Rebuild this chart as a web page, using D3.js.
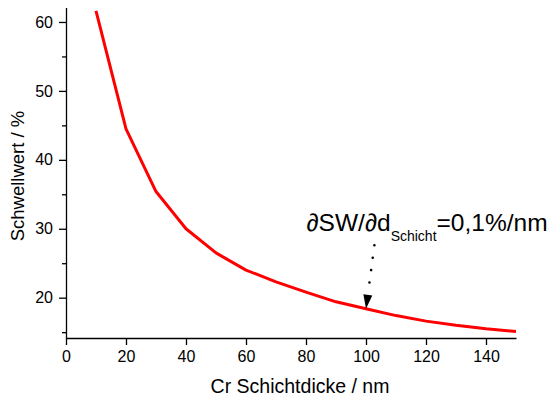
<!DOCTYPE html>
<html>
<head>
<meta charset="utf-8">
<script src="https://cdn.jsdelivr.net/npm/d3@7"></script>
<style>
  body { margin: 0; background: #fff; }
  svg { display: block; font-family: 'Liberation Sans', Arial, sans-serif; }
  .axis path, .axis line { stroke: #000; stroke-width: 1.3; }
  .axis text { font-size: 16px; fill: #000; font-family: 'Liberation Sans', Arial, sans-serif; }
</style>
</head>
<body>
<svg width="551" height="401"></svg>
<script>
// Schichtdicke in nm
let dicke = [10, 20, 30, 40, 50, 60, 70, 80, 90, 100, 110, 120, 130, 140, 150]
// Schwellwert in %
let schwellwert = [61.6, 44.5, 35.4, 30.0, 26.5, 24.0, 22.3, 20.8, 19.4, 18.4, 17.4, 16.6, 16.0, 15.5, 15.1]
let xTicks = [0, 20, 40, 60, 80, 100, 120, 140]
let yTicks = [20, 30, 40, 50, 60]
let yMinor = [15, 25, 35, 45, 55]
// annotation: arrow from label down to the curve at 100 nm
let arrowFrom = [102.8, 27.6]
let arrowTo = [100, 18.4]

let svg = d3.select('svg')
let mLeft = 66, mRight = 516, mTop = 7.5, mBottom = 338

let x = d3.scaleLinear().domain([0, 150]).range([mLeft, mRight])
let y = d3.scaleLinear().domain([14.15, 62.1]).range([mBottom, mTop])

svg.append('g')
  .attr('class', 'axis')
  .attr('transform', 'translate(0,' + mBottom + ')')
  .call(d3.axisBottom(x).tickValues(xTicks).tickSize(7).tickSizeOuter(0).tickPadding(6))

svg.append('g')
  .attr('class', 'axis')
  .attr('transform', 'translate(' + mLeft + ',0)')
  .call(d3.axisLeft(y).tickValues(yTicks).tickSize(7).tickSizeOuter(0).tickPadding(6))

svg.append('g')
  .attr('class', 'axis')
  .attr('transform', 'translate(' + mLeft + ',0)')
  .call(d3.axisLeft(y).tickValues(yMinor).tickSize(4).tickSizeOuter(0).tickFormat(''))
  .select('.domain').remove()

let line = d3.line()
  .x((d, i) => x(dicke[i]))
  .y(d => y(d))

svg.append('path')
  .datum(schwellwert)
  .attr('d', line)
  .attr('fill', 'none')
  .attr('stroke', '#ff0000')
  .attr('stroke-width', 3)
  .attr('stroke-linejoin', 'round')

// axis labels
svg.append('text')
  .attr('x', 300)
  .attr('y', 393)
  .attr('text-anchor', 'middle')
  .style('font-size', '19.5px')
  .text('Cr Schichtdicke / nm')

svg.append('text')
  .attr('transform', 'translate(23.5,176) rotate(-90)')
  .attr('text-anchor', 'middle')
  .style('font-size', '18.5px')
  .text('Schwellwert / %')

// annotation
let ax0 = x(arrowFrom[0]), ay0 = y(arrowFrom[1])
let ax1 = x(arrowTo[0]), ay1 = y(arrowTo[1])
let headLen = 14
let ang = Math.atan2(ay1 - ay0, ax1 - ax0)
let bx = ax1 - headLen * Math.cos(ang), by = ay1 - headLen * Math.sin(ang)

svg.append('line')
  .attr('x1', ax0).attr('y1', ay0)
  .attr('x2', bx).attr('y2', by)
  .attr('stroke', '#000')
  .attr('stroke-width', 2.6)
  .attr('stroke-linecap', 'round')
  .attr('stroke-dasharray', '0 12.5')

let px = Math.cos(ang + Math.PI / 2) * 4.5, py = Math.sin(ang + Math.PI / 2) * 4.5
svg.append('path')
  .attr('d', 'M' + ax1 + ',' + ay1 + 'L' + (bx + px) + ',' + (by + py) + 'L' + (bx - px) + ',' + (by - py) + 'Z')
  .attr('fill', '#000')

let lab = svg.append('text')
  .attr('x', 306.5)
  .attr('y', 231)
  .style('font-size', '24.5px')
lab.append('tspan').text('\u2202SW/\u2202d')
lab.append('tspan').attr('dy', 10).style('font-size', '14px').text('Schicht')
lab.append('tspan').attr('dy', -10).text('=0,1%/nm')
</script>
</body>
</html>
